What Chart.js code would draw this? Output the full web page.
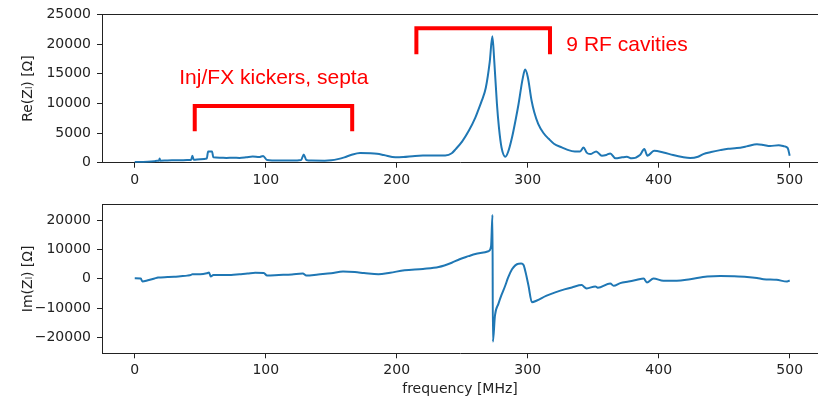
<!DOCTYPE html>
<html><head><meta charset="utf-8">
<script src="https://cdn.jsdelivr.net/npm/chart.js@4.4.0/dist/chart.umd.min.js"></script>
<style>
html,body{margin:0;padding:0;background:#fff;overflow:hidden;width:818px;height:398px}
canvas{position:absolute;left:0}
#c1{top:0}
#c2{top:190px}
</style></head>
<body>
<canvas id="c1" width="818" height="190"></canvas>
<canvas id="c2" width="818" height="208"></canvas>
<script>
// ---- data (frequency in MHz, impedance in Ohm) ----
const reFreq = [0,5,10,15,17,18.5,19,19.5,25,30,35,40,43,44,45,50,55,56,59,60,65,70,75,80,85,90,95,98,101,110,120,127,129,131,135,145,150,155,160,165,172,180,185,190,199,205,214,220,230,237,242,245,250,255,260,262,265,268,271,273,274.5,276.5,278,280,283,285,288,291,293,296,298,300,303,305,308,312,316,320,326,330,336,340,342.6,345,347.7,352.3,356.6,360,363,367,372,375.6,379.4,385.7,389,391.4,396.5,403.6,411,418,424,430,434,440,446.9,453,459.6,467,475,480,485,491.6,496,498.5,500];
const reValues = [100,120,150,250,330,330,720,330,380,400,420,450,470,1170,500,600,700,1900,1900,900,850,800,850,800,900,1050,950,1150,450,350,350,450,1400,450,350,330,400,600,900,1300,1650,1600,1500,1300,900,950,1150,1200,1200,1230,1600,2290,3600,5370,7600,8730,10500,12640,17000,21300,17000,9900,6000,2570,1000,1800,4250,7500,9900,14000,15700,14500,10400,8500,6540,5000,4030,3200,2570,2200,1900,1900,2570,1700,1450,1900,1170,1300,1570,730,900,1000,730,1290,2290,1170,2010,1730,1290,950,780,1000,1450,1800,2120,2350,2460,2750,3130,3000,2800,2960,2750,2460,1170];

const imFreq = [0,4.6,5.8,10,15,17.8,25,30,35,40,43,44,50,55,56.7,58,60,65,73.6,80,86,92,98.5,101,110,120,128.3,131,140,150,159,168,175,186,195,206,220,232,242,248,254.8,260,265,270,272,273.1,273.4,275,277.6,280,282.8,285,288,290.5,293,295,296.8,298.5,300.6,303.2,307,314,321,328,333.7,341.3,343.5,345,351.6,353.5,363,365.6,370.6,377,383.4,388.5,391,396,403.6,413.8,424,437,447,457,467.4,475,480,490,498,500];
const imValues = [230,100,-900,-500,100,450,600,700,900,1100,1350,1600,1600,1900,2130,800,1300,1350,1350,1600,1800,2100,2020,1120,1300,1500,1800,1120,1500,1900,2470,2300,2000,1570,2100,2920,3400,4040,5500,6700,7740,8500,8870,9430,11100,21780,-21440,-12460,-8530,-5500,-2360,400,3250,4600,5160,5200,4720,2000,-2360,-7970,-7400,-5800,-4600,-3600,-2920,-2140,-2920,-3250,-2580,-3030,-1570,-2360,-1460,-900,-340,110,-1240,110,-670,-670,-110,780,1000,900,670,300,-110,-340,-900,-560];

const xTicks = [0,100,200,300,400,500];
const reTicks = [0,5000,10000,15000,20000,25000];
const imTicks = [-20000,-10000,0,10000,20000];

const annotationLabels = ['Inj/FX kickers, septa','9 RF cavities'];
const annotationLayout = {
  brackets: [[45.8,166,5300,9550],[215,317,18300,22650]], // x0, x1, yLow, yHigh (data units)
  texts: [[34,13250],[329.5,18800]]                          // x, baseline y (data units)
};

// ---- helpers ----
const INK = '#222';
Chart.defaults.font.family = "'DejaVu Sans', sans-serif";
Chart.defaults.font.size = 14;
Chart.defaults.color = INK;

const fmt = v => v < 0 ? '\u2212' + Math.abs(v) : String(v);

function xScale(withTitle, height) {
  return {
    type: 'linear', min: -25, max: 521.6,
    afterBuildTicks: s => { s.ticks = xTicks.map(v => ({value: v})); },
    afterFit: s => { s.height = height; },
    grid: {drawOnChartArea: false, drawTicks: true, tickLength: 5, tickColor: INK, lineWidth: 1},
    border: {display: true, color: INK, width: 1},
    ticks: {color: INK, font: {size: 14}, padding: 4, maxRotation: 0, autoSkip: false, callback: fmt},
    title: {display: withTitle, text: 'frequency [MHz]', color: INK, font: {size: 14}, padding: {top: 0, bottom: 0}}
  };
}
function yScale(min, max, ticks, label) {
  return {
    type: 'linear', min: min, max: max,
    afterBuildTicks: s => { s.ticks = ticks.map(v => ({value: v})); },
    afterFit: s => { s.width = 102; },
    grid: {drawOnChartArea: false, drawTicks: true, tickLength: 5, tickColor: INK, lineWidth: 1},
    border: {display: true, color: INK, width: 1},
    ticks: {color: INK, font: {size: 14}, padding: 6, autoSkip: false, callback: fmt},
    title: {display: true, text: label, color: INK, font: {size: 14}, padding: {top: 20, bottom: 0}}
  };
}
const topSpine = {
  id: 'topSpine',
  afterDraw(chart) {
    const {ctx, chartArea: a} = chart;
    ctx.save();
    ctx.strokeStyle = INK; ctx.lineWidth = 1;
    ctx.beginPath();
    ctx.moveTo(a.left, Math.round(a.top) + 0.5);
    ctx.lineTo(a.right, Math.round(a.top) + 0.5);
    ctx.stroke();
    ctx.restore();
  }
};
const annot = {
  id: 'annot',
  afterDraw(chart) {
    const {ctx, scales: {x, y}} = chart;
    ctx.save();
    ctx.strokeStyle = '#ff0000'; ctx.fillStyle = '#ff0000';
    ctx.lineWidth = 4; ctx.lineJoin = 'miter'; ctx.lineCap = 'butt';
    annotationLayout.brackets.forEach(b => {
      ctx.beginPath();
      ctx.moveTo(x.getPixelForValue(b[0]), y.getPixelForValue(b[2]));
      ctx.lineTo(x.getPixelForValue(b[0]), y.getPixelForValue(b[3]));
      ctx.lineTo(x.getPixelForValue(b[1]), y.getPixelForValue(b[3]));
      ctx.lineTo(x.getPixelForValue(b[1]), y.getPixelForValue(b[2]));
      ctx.stroke();
    });
    ctx.font = "21px 'Liberation Sans', Arial, sans-serif";
    ctx.textBaseline = 'alphabetic'; ctx.textAlign = 'left';
    annotationLayout.texts.forEach((t, i) => {
      ctx.fillText(annotationLabels[i], x.getPixelForValue(t[0]), y.getPixelForValue(t[1]));
    });
    ctx.restore();
  }
};
function lineData(xs, ys) {
  return {datasets: [{
    data: xs.map((f, i) => ({x: f, y: ys[i]})),
    borderColor: '#1f77b4', borderWidth: 2, pointRadius: 0,
    cubicInterpolationMode: 'monotone', fill: false
  }]};
}
const common = {
  responsive: false, animation: false, devicePixelRatio: 1,
  plugins: {legend: {display: false}, tooltip: {enabled: false}},
  layout: {padding: {top: 13, right: 0, left: 0, bottom: 0}}
};

new Chart(document.getElementById('c1'), {
  type: 'line',
  data: lineData(reFreq, reValues),
  options: Object.assign({}, common, {
    scales: {x: xScale(false, 27.3), y: yScale(0, 25000, reTicks, 'Re(Z\u2097) [\u03A9]')}
  }),
  plugins: [topSpine, annot]
});
new Chart(document.getElementById('c2'), {
  type: 'line',
  data: lineData(imFreq, imValues),
  options: Object.assign({}, common, {
    layout: {padding: {top: 13.3, right: 0, left: 0, bottom: 0}},
    scales: {x: xScale(true, 44.7), y: yScale(-25400, 25400, imTicks, 'Im(Z\u2097) [\u03A9]')}
  }),
  plugins: [topSpine]
});
</script>
</body></html>
